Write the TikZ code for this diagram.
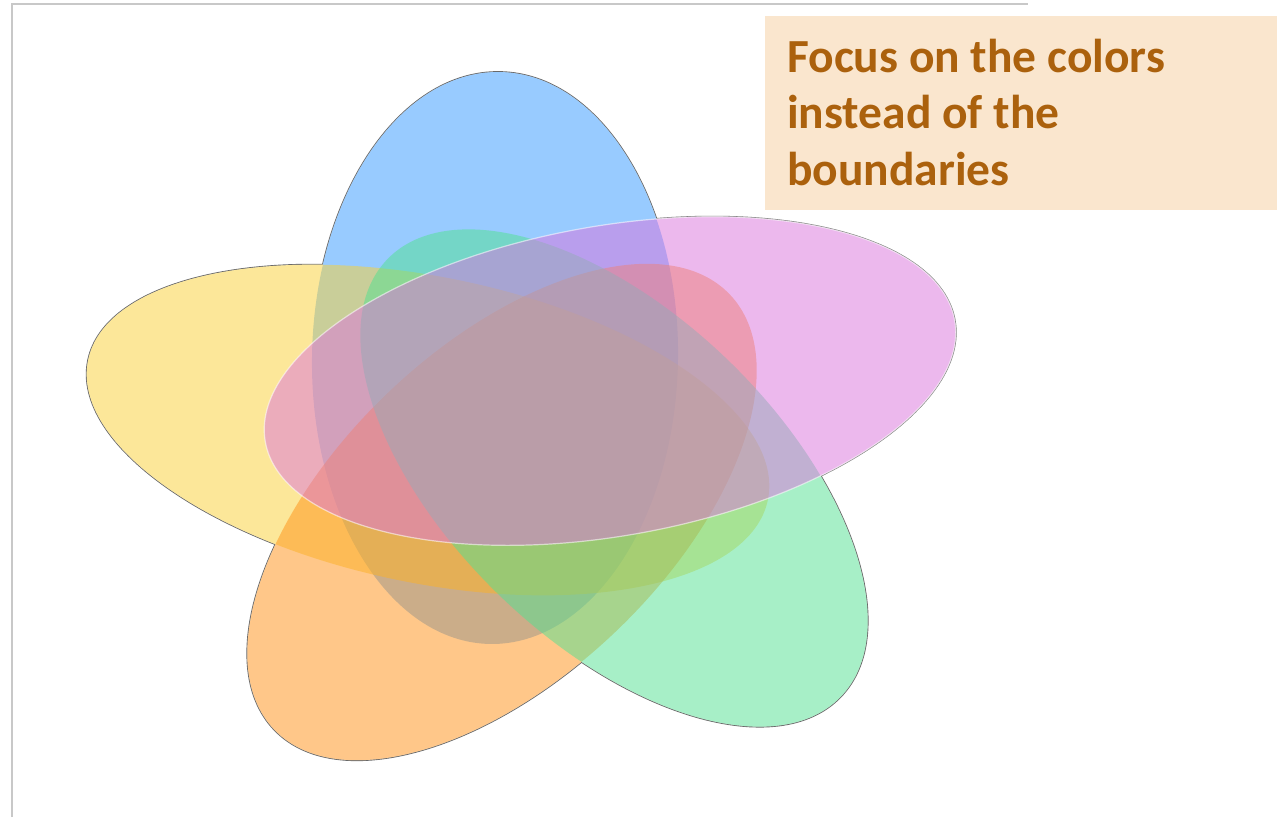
\documentclass[tikz,border=0pt]{standalone}
\usepackage{fontspec}
\newfontfamily\notefont{Carlito}

\definecolor{petalblue}{RGB}{51,153,255}
\definecolor{petalyellow}{RGB}{251,209,53}
\definecolor{petalorange}{RGB}{255,145,21}
\definecolor{petalgreen}{RGB}{81,225,145}
\definecolor{petalmagenta}{RGB}{219,115,221}
\definecolor{notebg}{RGB}{250,230,206}
\definecolor{notebrown}{RGB}{171,97,13}
\definecolor{framegray}{RGB}{200,200,200}
\definecolor{rimgray}{RGB}{105,105,105}

\begin{document}
\begin{tikzpicture}[x=1pt,y=-1pt,
        rim/.style={draw=rimgray, line width=1.8pt},
        petal/.style={fill opacity=0.5}]

    %\draw [help lines, step=50] (0,0) grid (1281,817);
    \useasboundingbox (0,0) rectangle (1281,817);

    \draw[framegray, line width=1.5pt] (12,817) -- (12,4) -- (1028,4);

    % rim of the whole flower: outlines, then the inside is covered
    \foreach \cx/\cy/\a/\b/\r in {495/358/286/183/89, 428/430/347/153/-11.6,
                                  502/512/315/165/43.7, 614/478/315/164/-44,
                                  610/381/350/155/10}
        \draw[rim, rotate around={\r:(\cx,\cy)}] (\cx,\cy) ellipse [x radius=\a, y radius=\b];
    \foreach \cx/\cy/\a/\b/\r in {495/358/286/183/89, 428/430/347/153/-11.6,
                                  502/512/315/165/43.7, 614/478/315/164/-44,
                                  610/381/350/155/10}
        \fill[white, rotate around={\r:(\cx,\cy)}] (\cx,\cy) ellipse [x radius=\a, y radius=\b];

    % the five petals
    \foreach \cx/\cy/\a/\b/\r/\col in {495/358/286/183/89/petalblue,
                                       428/430/347/153/-11.6/petalyellow,
                                       502/512/315/165/43.7/petalorange,
                                       614/478/315/164/-44/petalgreen,
                                       610/381/350/155/10/petalmagenta}
        \fill[petal, \col, rotate around={\r:(\cx,\cy)}] (\cx,\cy) ellipse [x radius=\a, y radius=\b];
    \draw[white, opacity=0.55, line width=1.2pt, rotate around={10:(610,381)}]
        (610,381) ellipse [x radius=350, y radius=155];

    % note
    \fill[notebg] (765,16) rectangle (1277,210);
    \node (note) [anchor=base west, align=left, inner sep=0pt, text=notebrown,
                  font=\notefont\bfseries\fontsize{47.5}{56.5}\selectfont]
        at (787,185) {Focus on the colors\\instead of the\\boundaries};

\end{tikzpicture}
\end{document}
